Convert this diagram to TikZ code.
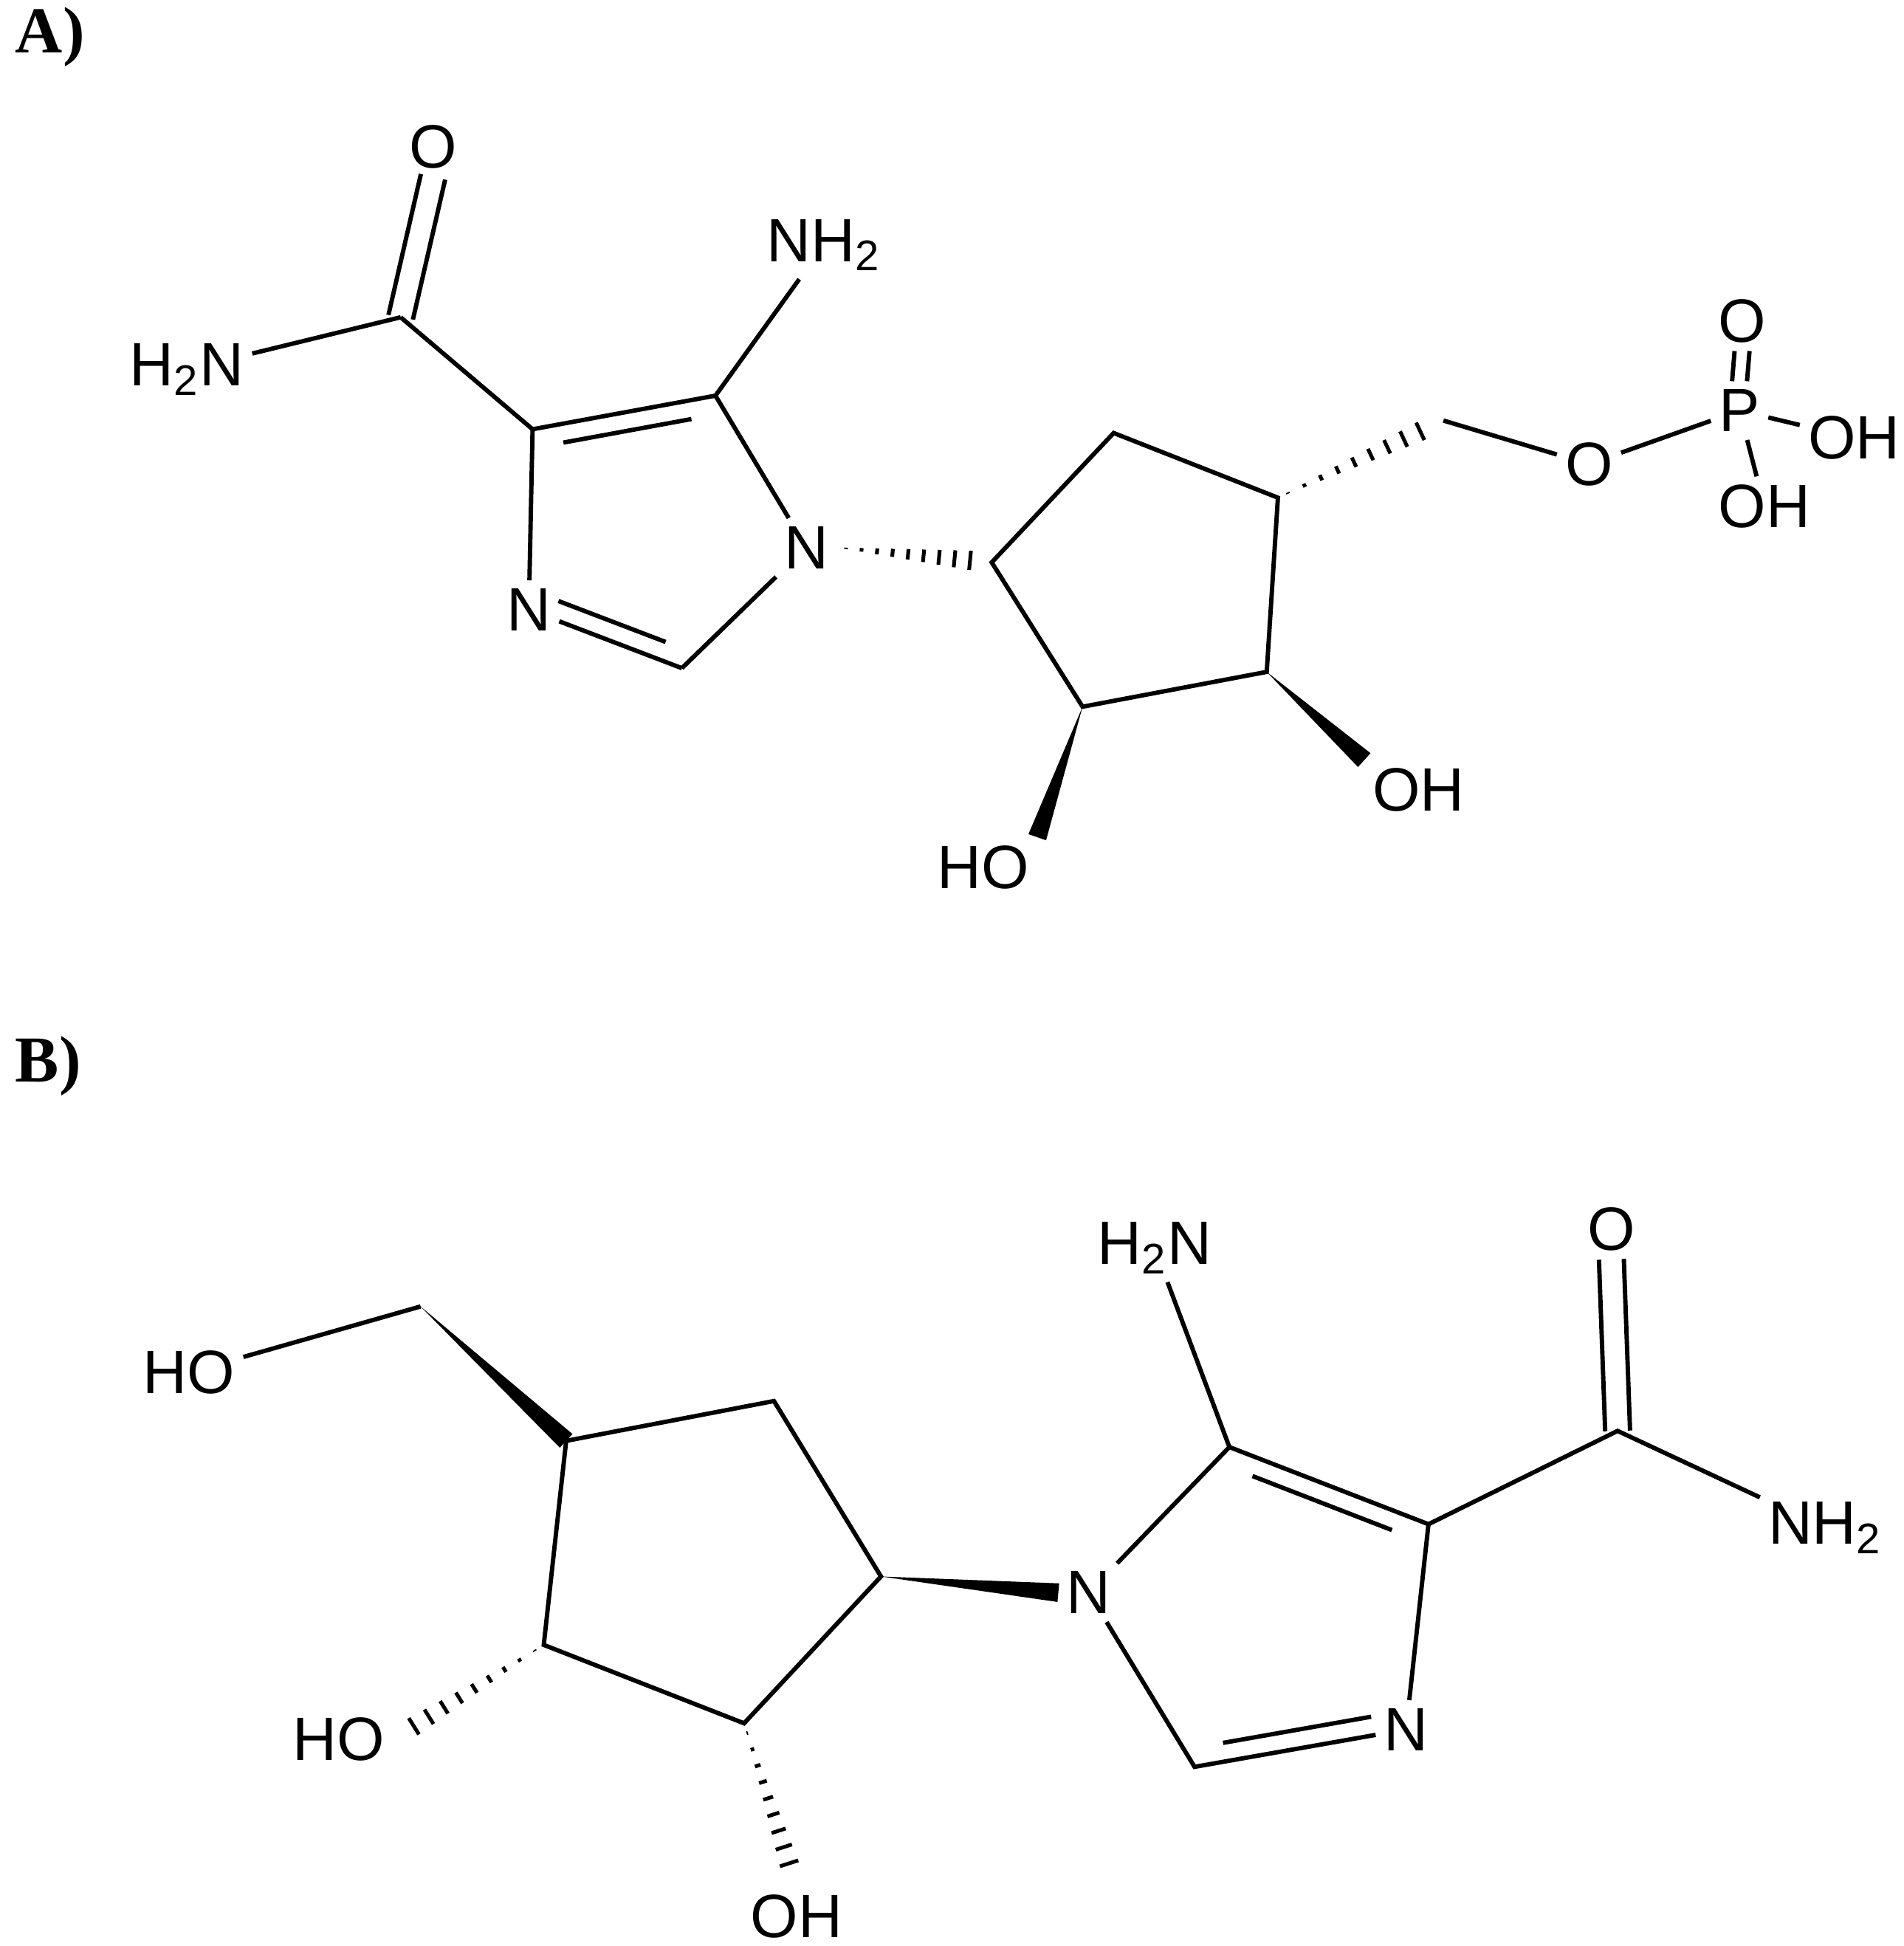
\documentclass[tikz,border=0pt]{standalone}
\usepackage{fontspec}
\setmainfont{Liberation Sans}
\newfontfamily\serifb{Liberation Serif}
\usetikzlibrary{calc}
\tikzset{
 bond/.style={line width=0.35mm},
 atom/.style={inner sep=0.6mm, font=\fontsize{14}{16}\selectfont},
 lab/.style={font=\serifb\bfseries\fontsize{15}{17}\selectfont, anchor=west}
}
\newcommand{\bw}[2]{\fill ($(#1)$) -- ($(#2)!0.75mm!90:(#1)$) -- ($(#2)!0.75mm!-90:(#1)$) -- cycle;}
\newcommand{\hw}[2]{\foreach \t in {0.06,0.16,...,0.96}{\draw[line width=0.3mm] ($(#1)!\t!(#2)!{\t*0.9mm}!90:(#2)$) -- ($(#1)!\t!(#2)!{\t*0.9mm}!-90:(#2)$);}}
\newcommand{\dbl}[3]{\draw[bond] ($(#1)!0.15!(#2)!1.5mm!#3:(#2)$) -- ($(#2)!0.15!(#1)!1.5mm!-#3:(#1)$);}
\begin{document}
\begin{tikzpicture}[x=0.1mm,y=-0.1mm]
\useasboundingbox (0,0) rectangle (1530,1564);
\node[lab] (la) at (0,30) {A)};
\node[lab] (lb) at (0,857) {B)};
% ---- A ----
\node[atom] (aO) at (348,118) {O};
\coordinate (aC) at (322,255);
\node[atom] (aNH) at (150,297) {H\textsubscript{2}N};
\coordinate (aC4) at (428,345);
\coordinate (aC5) at (575,318);
\node[atom] (aNH2) at (662,197) {NH\textsubscript{2}};
\node[atom] (aN1) at (648,440) {N};
\coordinate (aC2) at (548,537);
\node[atom] (aN3) at (425,490) {N};
\coordinate (a1) at (797,452);
\coordinate (a2) at (895,348);
\coordinate (a3) at (1027,400);
\coordinate (a4) at (1018,540);
\coordinate (a5) at (870,568);
\coordinate (aCH) at (1160,338);
\node[atom] (aO2) at (1277,373) {O};
\node[atom] (aP) at (1398,330) {P};
\node[atom] (aPO) at (1400,258) {O};
\node[atom] (aOH1) at (1490,352) {OH};
\node[atom] (aOH2) at (1418,407) {OH};
\node[atom] (aOH3) at (1140,635) {OH};
\node[atom] (aHO) at (790,697) {HO};
\draw[bond] (aC) -- (aNH) (aC) -- (aC4) (aC4) -- (aC5) (aC5) -- (aNH2) (aC5) -- (aN1) (aN1) -- (aC2) (aC2) -- (aN3) (aN3) -- (aC4);
\draw[bond] ($(aC)!1mm!90:(aO)$) -- ($(aO.south)!1mm!-90:(aC)$);
\draw[bond] ($(aC)!1mm!-90:(aO)$) -- ($(aO.south)!1mm!90:(aC)$);
\dbl{aC4}{aC5}{-90}
\dbl{aC2}{aN3}{-90}
\draw[bond] (a1) -- (a2) -- (a3) -- (a4) -- (a5) -- cycle;
\hw{aN1.east}{a1}
\hw{a3}{aCH}
\draw[bond] (aCH) -- (aO2) -- (aP) -- (aOH1) (aP) -- (aOH2);
\draw[bond] ($(aP.north)+(-6,0)$) -- ($(aPO.south)+(-6,0)$) ($(aP.north)+(6,0)$) -- ($(aPO.south)+(6,0)$);
\bw{a4}{aOH3.north west}
\bw{a5}{aHO.north east}
% ---- B ----
\node[atom] (bHO) at (152,1103) {HO};
\coordinate (bCH) at (338,1050);
\coordinate (b4) at (455,1158);
\coordinate (b5) at (622,1126);
\coordinate (b1) at (708,1267);
\coordinate (b2) at (598,1385);
\coordinate (b3) at (437,1322);
\node[atom] (bHO2) at (272,1398) {HO};
\node[atom] (bOH) at (640,1540) {OH};
\node[atom] (bN1) at (875,1280) {N};
\coordinate (bC5) at (988,1163);
\coordinate (bC4) at (1148,1225);
\node[atom] (bN3) at (1130,1390) {N};
\coordinate (bC2) at (960,1420);
\node[atom] (bNH2a) at (928,1003) {H\textsubscript{2}N};
\coordinate (bC) at (1300,1150);
\node[atom] (bO) at (1295,988) {O};
\node[atom] (bNH2) at (1467,1228) {NH\textsubscript{2}};
\draw[bond] (bHO) -- (bCH);
\bw{bCH}{b4}
\draw[bond] (b4) -- (b5) -- (b1) -- (b2) -- (b3) -- cycle;
\bw{b1}{bN1.west}
\hw{b3}{bHO2.east}
\hw{b2}{bOH.north}
\draw[bond] (bN1) -- (bC5) -- (bC4) -- (bN3) -- (bC2) -- (bN1) (bC5) -- (bNH2a) (bC4) -- (bC) -- (bNH2);
\dbl{bC5}{bC4}{-90}
\dbl{bN3}{bC2}{-90}
\draw[bond] ($(bC)!1mm!90:(bO)$) -- ($(bO.south)!1mm!-90:(bC)$);
\draw[bond] ($(bC)!1mm!-90:(bO)$) -- ($(bO.south)!1mm!90:(bC)$);
\end{tikzpicture}
\end{document}
